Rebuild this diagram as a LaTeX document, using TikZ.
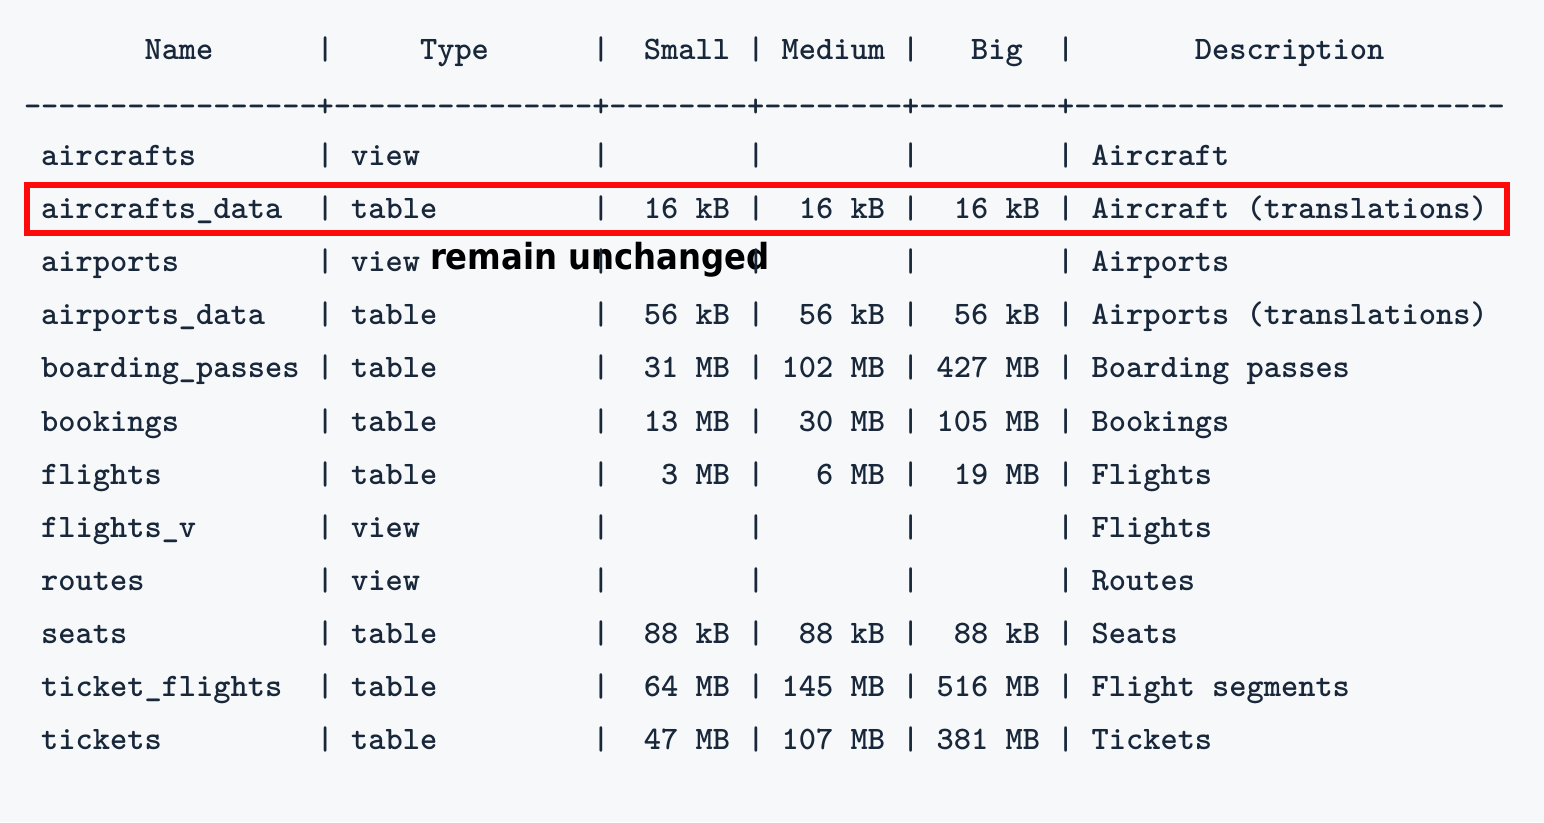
\documentclass[tikz,border=0pt]{standalone}
\usepackage{fontspec}
\newfontfamily\notefont{DejaVu Sans Condensed}
\definecolor{ink}{HTML}{18273A}
\definecolor{bgc}{HTML}{F7F8FA}
\definecolor{hl}{HTML}{FF0A0A}
\tikzset{
  cell/.style={inner sep=0pt, outer sep=0pt, anchor=base west, text=ink,
    font=\fontsize{32.8}{34}\selectfont\ttfamily\bfseries},
  rcell/.style={cell, anchor=base east},
  note/.style={inner sep=0pt, outer sep=0pt, anchor=base west, text=black,
    font=\notefont\bfseries\fontsize{35.9}{40}\selectfont},
  hlbox/.style={draw=hl, line width=6pt, inner sep=0pt, minimum width=1480pt, minimum height=48pt},
}
\begin{document}
\begin{tikzpicture}[x=1pt,y=-1pt]
\fill[bgc] (0,0) rectangle (1544,822);
\useasboundingbox (0,0) rectangle (1544,822);
% header
\node[cell] (hname)  at ({24+17.22*7},59.3)  {Name};
\node[cell] (htype)  at ({24+17.22*23},59.3) {Type};
\node[cell] (hsmall) at ({24+17.22*36},59.3) {Small};
\node[cell] (hmed)   at ({24+17.22*44},59.3) {Medium};
\node[cell] (hbig)   at ({24+17.22*55},59.3) {Big};
\node[cell] (hdesc)  at ({24+17.22*68},59.3) {Description};
% separator
\node[cell] (sep) at (24,116) {-----------------+---------------+--------+--------+--------+-------------------------};
% note label (below the table text)
\node[note] (remain) at (430,269.3) {remain unchanged};
% rows
\foreach \n/\t/\s/\m/\b/\d [count=\i from 2] in {
  aircrafts/view/{}/{}/{}/Aircraft,
  aircrafts\_data/table/16 kB/16 kB/16 kB/Aircraft (translations),
  airports/view/{}/{}/{}/Airports,
  airports\_data/table/56 kB/56 kB/56 kB/Airports (translations),
  boarding\_passes/table/31 MB/102 MB/427 MB/Boarding passes,
  bookings/table/13 MB/30 MB/105 MB/Bookings,
  flights/table/3 MB/6 MB/19 MB/Flights,
  flights\_v/view/{}/{}/{}/Flights,
  routes/view/{}/{}/{}/Routes,
  seats/table/88 kB/88 kB/88 kB/Seats,
  ticket\_flights/table/64 MB/145 MB/516 MB/Flight segments,
  tickets/table/47 MB/107 MB/381 MB/Tickets}{
  \node[cell]  (name-\i)  at ({24+17.22*1},{59.3+53.1*\i})  {\n};
  \node[cell]  (type-\i)  at ({24+17.22*19},{59.3+53.1*\i}) {\t};
  \node[rcell] (small-\i) at ({24+17.22*41},{59.3+53.1*\i}) {\s};
  \node[rcell] (med-\i)   at ({24+17.22*50},{59.3+53.1*\i}) {\m};
  \node[rcell] (big-\i)   at ({24+17.22*59},{59.3+53.1*\i}) {\b};
  \node[cell]  (desc-\i)  at ({24+17.22*62},{59.3+53.1*\i}) {\d};
}
% column bars
\foreach \r in {0,2,3,...,13}{
  \foreach \c [count=\k] in {17,33,42,51,60}{
    \node[cell] (bar-\r-\k) at ({24+17.22*\c},{59.3+53.1*\r}) {|};
  }
}
% highlight of the aircrafts_data row
\node[hlbox] (highlight) at (767,209) {};
\end{tikzpicture}
\end{document}
